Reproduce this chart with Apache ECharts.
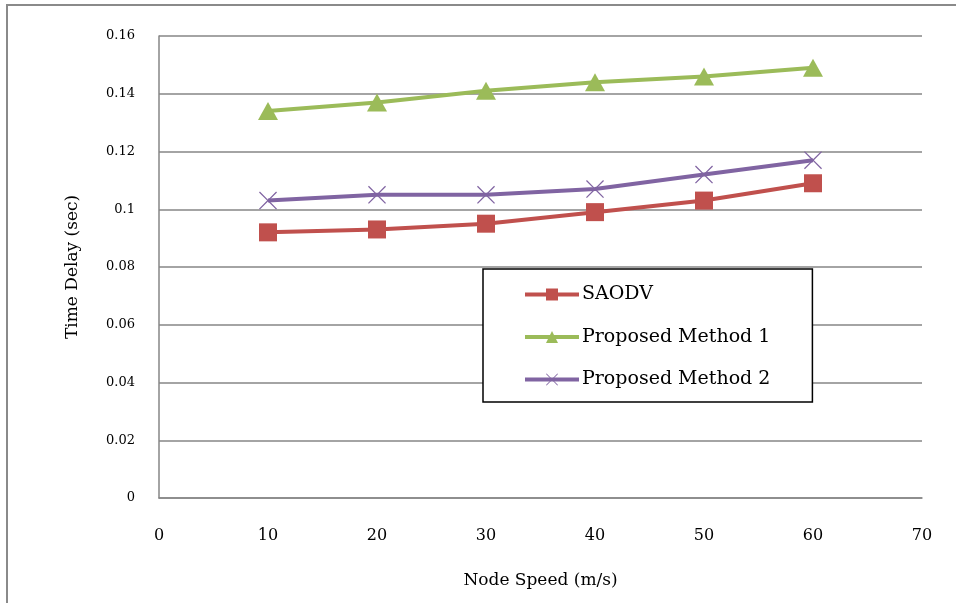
<!DOCTYPE html>
<html><head><meta charset="utf-8">
<script src="https://cdn.jsdelivr.net/npm/echarts@6/dist/echarts.min.js"></script>
<style>html,body{margin:0;padding:0;background:#fff}#c{width:956px;height:603px}</style>
</head><body><div id="c"></div>
<script>
var speeds = [10, 20, 30, 40, 50, 60];
var saodv = [0.092, 0.093, 0.095, 0.099, 0.103, 0.109];
var method1 = [0.134, 0.137, 0.141, 0.144, 0.146, 0.149];
var method2 = [0.103, 0.105, 0.105, 0.107, 0.112, 0.117];
var seriesNames = ['SAODV', 'Proposed Method 1', 'Proposed Method 2'];

var font = 'DejaVu Serif';
var crossPath = 'path://M0,1 L1,0 L10,9 L19,0 L20,1 L11,10 L20,19 L19,20 L10,11 L1,20 L0,19 L9,10 Z';
function pts(v){ return speeds.map(function(s,i){ return [s, v[i]]; }); }

var chart = echarts.init(document.getElementById('c'));
chart.setOption({
  animation: false,
  backgroundColor: '#fff',
  graphic: [{
    type: 'polyline', silent: true,
    shape: { points: [[7, 603], [7, 5], [956, 5]] },
    style: { stroke: '#8a8a8a', lineWidth: 2, fill: null }
  }],
  grid: { left: 159, right: 34, top: 36, bottom: 105 },
  legend: {
    orient: 'vertical', left: 483, top: 269,
    padding: [16, 42, 13, 40], itemGap: 23.5, itemWidth: 54, itemHeight: 15,
    borderColor: '#000', borderWidth: 1.5, backgroundColor: '#fff',
    lineStyle: { width: 4 },
    textStyle: { fontFamily: font, fontSize: 19, color: '#000', padding: [0,0,0,-2] },
    data: seriesNames
  },
  xAxis: {
    type: 'value', min: 0, max: 70, interval: 10,
    name: 'Node Speed (m/s)', nameLocation: 'middle', nameGap: 74,
    nameTextStyle: { fontFamily: font, fontSize: 17, color: '#000' },
    axisLine: { show: true, lineStyle: { color: '#868686', width: 1.5 } },
    axisTick: { show: false },
    splitLine: { show: false },
    axisLabel: { fontFamily: font, fontSize: 16, color: '#000', margin: 30 }
  },
  yAxis: {
    type: 'value', min: 0, max: 0.16, interval: 0.02,
    name: 'Time Delay (sec)', nameLocation: 'middle', nameGap: 78, nameRotate: 90,
    nameTextStyle: { fontFamily: font, fontSize: 17, color: '#000' },
    axisLine: { show: true, lineStyle: { color: '#868686', width: 1.5 } },
    axisTick: { show: false },
    splitLine: { show: true, lineStyle: { color: '#868686', width: 1.5 } },
    axisLabel: { fontFamily: font, fontSize: 13, color: '#000', margin: 24,
      formatter: function(v){ return String(Math.round(v*100)/100); } }
  },
  series: [
    { name: seriesNames[0], type: 'line', data: pts(saodv), symbol: 'rect', symbolSize: 18,
      itemStyle: { color: '#C0504D' }, lineStyle: { color: '#C0504D', width: 4 } },
    { name: seriesNames[1], type: 'line', data: pts(method1), symbol: 'triangle', symbolSize: [20, 18],
      itemStyle: { color: '#9BBB59' }, lineStyle: { color: '#9BBB59', width: 4 } },
    { name: seriesNames[2], type: 'line', data: pts(method2), symbol: crossPath, symbolSize: 18,
      itemStyle: { color: '#8064A2' }, lineStyle: { color: '#8064A2', width: 4 } }
  ]
});
</script></body></html>
